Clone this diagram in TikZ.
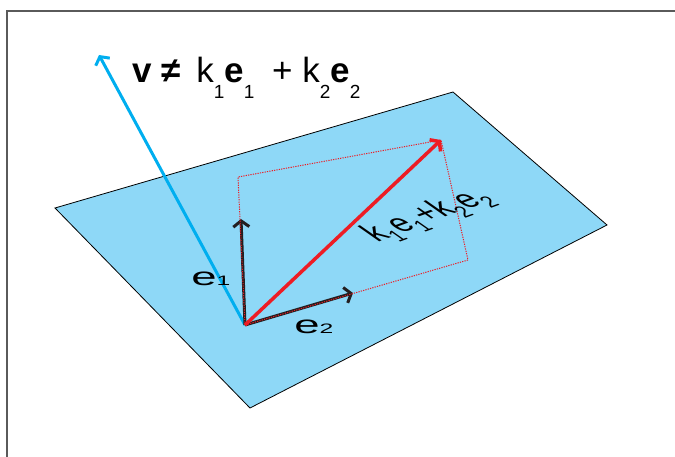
\documentclass[tikz,border=0pt]{standalone}
\usepackage{fontspec}
\setmainfont{Liberation Sans}
\usetikzlibrary{arrows.meta}
\def\vecwidth{3}
\def\thinedge{0.8}
\definecolor{planeblue}{RGB}{142,216,247}
\definecolor{vblue}{RGB}{0,174,239}
\definecolor{sumred}{RGB}{237,28,36}
\definecolor{basisblack}{RGB}{35,31,32}
\definecolor{framegray}{RGB}{90,90,90}
\newcommand{\lowsub}[2][0.43em]{\raisebox{-#1}{\fontsize{19}{19}\selectfont #2}}
\tikzset{vecarrow/.style={line width=\vecwidth, -{Straight Barb[length=6pt,width=16pt]}},
         bigtext/.style={font=\fontsize{35}{40}\selectfont, inner sep=0pt},
         planetext/.style={bigtext, xscale=1.3, yscale=0.72}}

\begin{document}
\begin{tikzpicture}[x = 1pt, y = -1pt]
        \useasboundingbox (0,0) rectangle (675,457);
        \draw [framegray, line width=1.2] (7,457) |- (675,11);

            \node (1) at (55,208){};
            \node (2) at (453,92){};
            \node (3) at (607,225){};
            \node (4) at (250,408){};
        \draw [fill=planeblue, line width=\thinedge] (1.center) -- (2.center) -- (3.center) -- (4.center) -- cycle;

            \node (o) at (245,325){};
            \node (v) at (99,55){};
            \node (e1) at (241,219){};
            \node (e2) at (353,293){};
            \node (s) at (441,140){};
            \node (a1) at (238,177){};
            \node (a2) at (468,260){};

        \draw [vecarrow, vblue] (o.center) -- (v.center);
        \draw [vecarrow, basisblack] (o.center) -- (e1.center);
        \draw [vecarrow, basisblack] (o.center) -- (e2.center);
        \draw [sumred, line width=1, dash pattern=on 1.2pt off 1.2pt] (o.center) -- (a1.center) -- (s.center) -- (a2.center) -- (o.center);
        \draw [vecarrow, sumred, line width=3.5] (o.center) -- (s.center);

        \node [bigtext, anchor=base west] (eq) at (132,83) {\textbf{v} \textbf{≠}\hspace{6pt} k\lowsub{1}\textbf{e}\lowsub{1}\hspace{8pt} + k\lowsub{2}\textbf{e}\lowsub{2}};

        \node [planetext, anchor=base west] (le1) at (191,286) {e\lowsub[0pt]{1}};
        \node [planetext, anchor=base west] (le2) at (294,334) {e\lowsub[0pt]{2}};
        \node [bigtext, font=\fontsize{30}{34}\selectfont, rotate=20, xslant=-0.7] (lsum) at (428,216) {k\lowsub[0.25em]{1}e\lowsub[0.25em]{1}+k\lowsub[0.25em]{2}e\lowsub[0.25em]{2}};

        \end{tikzpicture}
\end{document}
